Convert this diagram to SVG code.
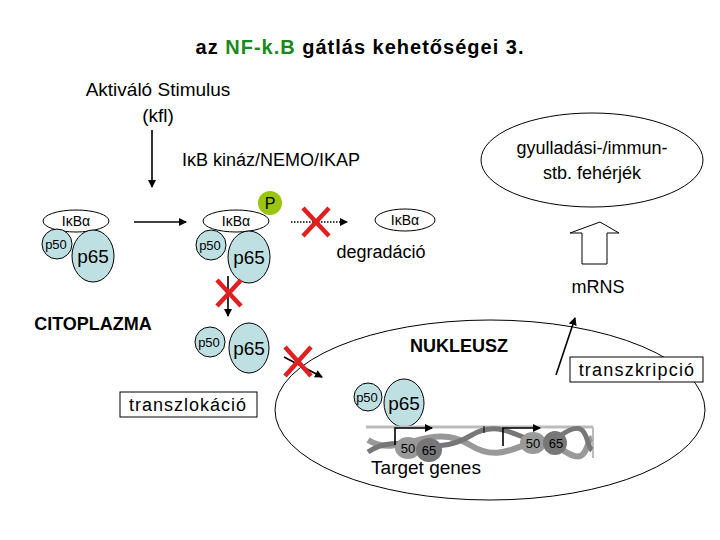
<svg xmlns="http://www.w3.org/2000/svg" width="720" height="540" viewBox="0 0 720 540">
<defs>
<style>
text{font-family:"Liberation Sans",Arial,sans-serif;fill:#000}
.b{font-weight:bold}
.prot{fill:#bfe0e3;stroke:#000;stroke-width:1}
.ikb{fill:#fff;stroke:#000;stroke-width:1}
.ln{stroke:#000;stroke-width:1.6;fill:none}
.x{stroke:#e02020;stroke-width:4.5;stroke-linecap:butt}
</style>
<marker id="ah" markerWidth="8" markerHeight="8" refX="7" refY="4" orient="auto" markerUnits="userSpaceOnUse"><path d="M0,0 L8,4 L0,8 z" fill="#000"/></marker>
</defs>
<rect width="720" height="540" fill="#fff"/>
<text x="360" y="54" text-anchor="middle" class="b" font-size="20" letter-spacing="1">az <tspan fill="#1a8a1a">NF-k.B</tspan> gátlás kehetőségei 3.</text>
<g id="stimulus"><text x="158" y="96" text-anchor="middle" font-size="19">Aktiváló Stimulus</text><text x="158" y="122" text-anchor="middle" font-size="19">(kfl)</text></g>
<g id="kinase"><text x="271" y="166" text-anchor="middle" font-size="18">IκB kináz/NEMO/IKAP</text></g>
<g id="complex1">
<ellipse class="ikb" cx="76" cy="221" rx="33" ry="11"/><text x="76" y="226" text-anchor="middle" font-size="14">IκBα</text>
<circle class="prot" cx="57" cy="244" r="15"/><text x="56" y="249" text-anchor="middle" font-size="13">p50</text>
<ellipse class="prot" cx="93" cy="256" rx="21" ry="26"/><text x="93" y="263" text-anchor="middle" font-size="19">p65</text>
</g>
<g id="complex2">
<ellipse class="ikb" cx="236" cy="221" rx="33" ry="11"/><text x="236" y="226" text-anchor="middle" font-size="14">IκBα</text>
<circle class="prot" cx="211" cy="245" r="15"/><text x="210" y="250" text-anchor="middle" font-size="13">p50</text>
<ellipse class="prot" cx="249" cy="257" rx="21" ry="26"/><text x="249" y="264" text-anchor="middle" font-size="19">p65</text>
<circle cx="270" cy="203" r="12" fill="#99c410"/><text x="270" y="209" text-anchor="middle" font-size="16">P</text>
</g>
<g id="degradation">
<ellipse class="ikb" cx="405" cy="220" rx="30" ry="11"/><text x="405" y="225" text-anchor="middle" font-size="14">IκBα</text>
<text x="381" y="258" text-anchor="middle" font-size="18">degradáció</text>
</g>
<g id="complex3">
<circle class="prot" cx="210" cy="342" r="15"/><text x="209" y="347" text-anchor="middle" font-size="13">p50</text>
<ellipse class="prot" cx="249" cy="348" rx="20" ry="25"/><text x="249" y="355" text-anchor="middle" font-size="19">p65</text>
</g>
<text x="93" y="330" text-anchor="middle" class="b" font-size="18">CITOPLAZMA</text>
<g id="translocation"><rect x="120" y="392" width="137" height="25" fill="#fff" stroke="#000"/><text x="188" y="411" text-anchor="middle" font-size="18" letter-spacing="1">transzlokáció</text></g>
<g id="nucleus">
<ellipse cx="490" cy="410" rx="215" ry="90" fill="none" stroke="#000" stroke-width="1"/>
<text x="459" y="352" text-anchor="middle" class="b" font-size="18">NUKLEUSZ</text>
<circle class="prot" cx="368" cy="397" r="14"/><text x="367" y="402" text-anchor="middle" font-size="13">p50</text>
<ellipse class="prot" cx="404" cy="403" rx="20" ry="24"/><text x="404" y="410" text-anchor="middle" font-size="19">p65</text>
</g>
<g id="dna">
<rect x="366" y="426" width="227" height="32" fill="#fff"/>
<line x1="366" y1="427" x2="593" y2="427" stroke="#bbb" stroke-width="3"/>
<line x1="593" y1="427" x2="593" y2="458" stroke="#bbb" stroke-width="2"/>
<path d="M368,440 C400,460 430,420 470,445 S530,425 560,448 S585,440 592,438" fill="none" stroke="#999" stroke-width="6"/>
<path d="M368,452 C400,430 430,460 470,436 S530,458 560,436 S585,446 592,450" fill="none" stroke="#777" stroke-width="5"/>
<ellipse cx="408" cy="448" rx="13" ry="11" fill="#999"/><text x="408" y="453" text-anchor="middle" font-size="13" fill="#444">50</text>
<ellipse cx="429" cy="450" rx="13" ry="12" fill="#777"/><text x="429" y="455" text-anchor="middle" font-size="13" fill="#333">65</text>
<ellipse cx="533" cy="443" rx="13" ry="11" fill="#999"/><text x="533" y="448" text-anchor="middle" font-size="13" fill="#444">50</text>
<ellipse cx="555" cy="443" rx="12" ry="12" fill="#777"/><text x="556" y="448" text-anchor="middle" font-size="13" fill="#333">65</text>
<path d="M395,445 V428 H432" class="ln" stroke-width="1.3" marker-end="url(#ah)"/>
<path d="M503,446 V428 H540" class="ln" stroke-width="1.3" marker-end="url(#ah)"/>
<line x1="484" y1="426" x2="484" y2="433" stroke="#000"/>
<text x="426" y="474" text-anchor="middle" font-size="19">Target genes</text>
</g>
<g id="transcription"><rect x="570" y="357" width="133" height="25" fill="#fff" stroke="#000"/><text x="637" y="376" text-anchor="middle" font-size="18" letter-spacing="1.2">transzkripció</text></g>
<g id="mrna">
<path d="M600,222 L619,233 L607,233 L607,264 L582,264 L582,233 L570,233 Z" fill="#fff" stroke="#000"/>
<text x="598" y="293" text-anchor="middle" font-size="18">mRNS</text>
</g>
<g id="proteins"><ellipse cx="592" cy="160" rx="111" ry="47" fill="#fff" stroke="#000"/><text x="592" y="154" text-anchor="middle" font-size="18">gyulladási-/immun-</text><text x="592" y="179" text-anchor="middle" font-size="18">stb. fehérjék</text></g>
<g id="connectors">
<line class="ln" x1="152" y1="130" x2="152" y2="187" marker-end="url(#ah)"/>
<line class="ln" x1="134" y1="222" x2="186" y2="222" marker-end="url(#ah)"/>
<line x1="291" y1="222" x2="347" y2="222" stroke="#000" stroke-width="1.6" stroke-dasharray="1.5 1.5" marker-end="url(#ah)"/>
<line class="ln" x1="228" y1="276" x2="228" y2="316" marker-end="url(#ah)"/>
<line class="ln" x1="284" y1="357" x2="322" y2="377" marker-end="url(#ah)"/>
<line class="ln" stroke-width="1.3" x1="556" y1="375" x2="575" y2="318" marker-end="url(#ah)"/>
</g>
<g id="blocks">
<path class="x" d="M303,208 L329,236 M329,208 L303,236"/>
<path class="x" d="M217,280 L241,306 M241,280 L217,306"/>
<path class="x" d="M285,347 L311,376 M311,347 L285,376"/>
</g>
</svg>
